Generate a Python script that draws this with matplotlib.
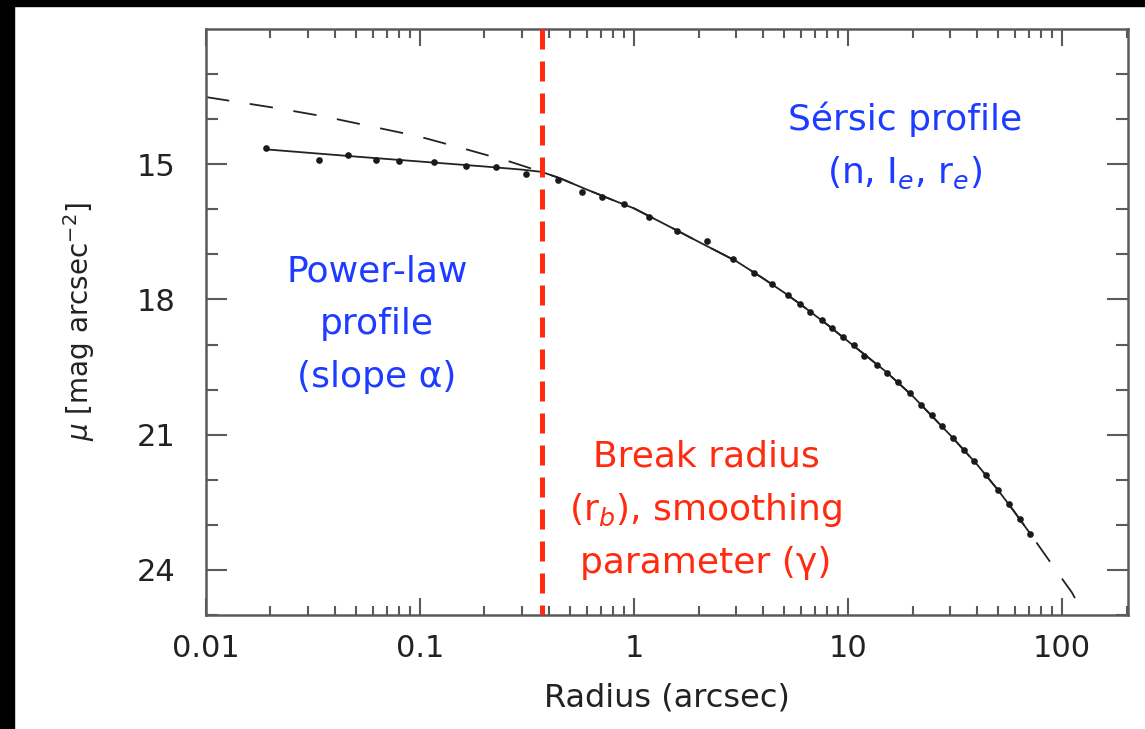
import matplotlib
matplotlib.use("Agg")
import matplotlib.pyplot as plt
from matplotlib.patches import Rectangle
from matplotlib.ticker import FixedLocator, FuncFormatter, LogLocator, NullFormatter

# measured surface brightness profile
obs_r = [0.019, 0.0336, 0.0459, 0.0622, 0.0795, 0.116, 0.164, 0.226, 0.313,
         0.443, 0.571, 0.711, 0.893, 1.18, 1.58, 2.19, 2.91, 3.65, 4.42, 5.25,
         5.93, 6.66, 7.53, 8.42, 9.44, 10.6, 11.8, 13.7, 15.2, 17.1, 19.4, 21.8,
         24.6, 27.5, 30.8, 34.7, 38.9, 44.2, 50.0, 56.4, 63.2, 71.1]
obs_mu = [14.65, 14.91, 14.80, 14.90, 14.93, 14.96, 15.05, 15.07, 15.21,
          15.35, 15.61, 15.72, 15.88, 16.16, 16.49, 16.71, 17.11, 17.41, 17.66, 17.91,
          18.10, 18.27, 18.46, 18.64, 18.83, 19.02, 19.25, 19.45, 19.64, 19.84, 20.08, 20.34,
          20.56, 20.81, 21.07, 21.33, 21.59, 21.90, 22.22, 22.54, 22.87, 23.20]

# core-Sersic fit (solid)
fit_r = [0.019, 0.05, 0.1, 0.2, 0.3, 0.37, 0.45, 0.6, 0.8, 1.0, 1.5, 2.0, 3.0,
         4.0, 5.0, 6.0, 8.0, 10.0, 15.0, 20.0, 30.0, 40.0, 50.0, 60.0, 72.0]
fit_mu = [14.67, 14.83, 14.94, 15.05, 15.12, 15.17, 15.31, 15.56, 15.80, 15.98, 16.41, 16.72, 17.15,
          17.53, 17.84, 18.11, 18.56, 18.93, 19.60, 20.14, 21.01, 21.66, 22.22, 22.72, 23.24]

# pure Sersic model (dashed)
sersic_r = [0.01, 0.0217, 0.0356, 0.059, 0.098, 0.159, 0.258, 0.37, 0.45, 0.6, 0.8,
            1.0, 1.5, 2.0, 3.0, 4.0, 5.0, 6.0, 8.0, 10.0, 15.0, 20.0, 30.0, 40.0,
            50.0, 60.0, 72.0, 86.0, 100.0, 111.0, 130.0]
sersic_mu = [13.51, 13.76, 13.94, 14.16, 14.38, 14.65, 14.93, 15.17, 15.31, 15.56, 15.80,
             15.98, 16.41, 16.72, 17.15, 17.53, 17.84, 18.11, 18.56, 18.93, 19.60, 20.14, 21.01, 21.66,
             22.22, 22.72, 23.24, 23.76, 24.20, 24.50, 25.10]

r_break = 0.37
r_lim = (0.01, 203)
mu_lim = (25, 12)
mu_major = [15, 18, 21, 24]
mu_minor = [13, 14, 16, 17, 19, 20, 22, 23, 25]
r_ticks = [0.01, 0.1, 1, 10, 100]

blue = "#1e3cff"
red = "#ff2b10"
frame = "#5a5a5a"

plt.rcParams["font.family"] = ["DejaVu Sans"]
plt.rcParams["mathtext.fontset"] = "dejavusans"

fig = plt.figure(figsize=(11.45, 7.29), dpi=100)
ax = fig.add_axes([206 / 1145, 114 / 729, 922 / 1145, 586 / 729])

ax.plot(sersic_r, sersic_mu, color="#222222", lw=1.3, ls=(0, (13, 11.5)), zorder=2)
ax.plot(fit_r, fit_mu, color="#222222", lw=1.3, zorder=3)
ax.plot(obs_r, obs_mu, "o", color="#1a1a1a", ms=4.8, mec="none", zorder=4)
ax.plot([r_break, r_break], [mu_lim[1], mu_lim[0]], color=red, lw=3.6,
        ls=(0, (4.0, 2.4)), zorder=5)

ax.set_xscale("log")
ax.set_xlim(*r_lim)
ax.set_ylim(*mu_lim)

ax.xaxis.set_major_locator(FixedLocator(r_ticks))
ax.xaxis.set_major_formatter(FuncFormatter(lambda v, p: "%g" % v))
ax.xaxis.set_minor_locator(LogLocator(base=10, subs=range(2, 10)))
ax.xaxis.set_minor_formatter(NullFormatter())
ax.yaxis.set_major_locator(FixedLocator(mu_major))
ax.yaxis.set_minor_locator(FixedLocator(mu_minor))

ax.tick_params(which="both", direction="in", top=True, right=True,
               color=frame, width=1.5, labelcolor="#222222", labelsize=22)
ax.tick_params(axis="x", which="major", length=12, pad=14)
ax.tick_params(axis="x", which="minor", length=6.5)
ax.tick_params(axis="y", which="major", length=15, pad=22)
ax.tick_params(axis="y", which="minor", length=8.5)
for s in ax.spines.values():
    s.set_color(frame)
    s.set_linewidth(1.8)

ax.set_xlabel("Radius (arcsec)", fontsize=23, color="#222222")
ax.xaxis.set_label_coords(0.5, -0.115)
ax.set_ylabel(r"$\mu$ [mag arcsec$^{-2}$]", fontsize=20, color="#222222")
ax.yaxis.set_label_coords(-0.118, 0.5)

# region labels
def label_lines(lines, x, ys, color):
    for txt, y in zip(lines, ys):
        ax.text(x, y, txt, transform=ax.transAxes, ha="center", va="baseline",
                fontsize=26, color=color)

label_lines(["Sérsic profile", r"(n, I$_{e}$, r$_{e}$)"], 0.758, [0.8276, 0.7372], blue)
label_lines(["Power-law", "profile", "(slope α)"], 0.1855, [0.5683, 0.4795, 0.3891], blue)
label_lines(["Break radius", r"(r$_{b}$), smoothing", "parameter (γ)"], 0.5423,
            [0.2526, 0.1621, 0.0717], red)

# dark slide edges
fig.add_artist(Rectangle((0, 1 - 6 / 729), 1, 6 / 729, transform=fig.transFigure,
                         color="black", zorder=10))
fig.add_artist(Rectangle((0, 0), 14 / 1145, 1, transform=fig.transFigure,
                         color="black", zorder=10))

fig.savefig("out.png", dpi=100)
